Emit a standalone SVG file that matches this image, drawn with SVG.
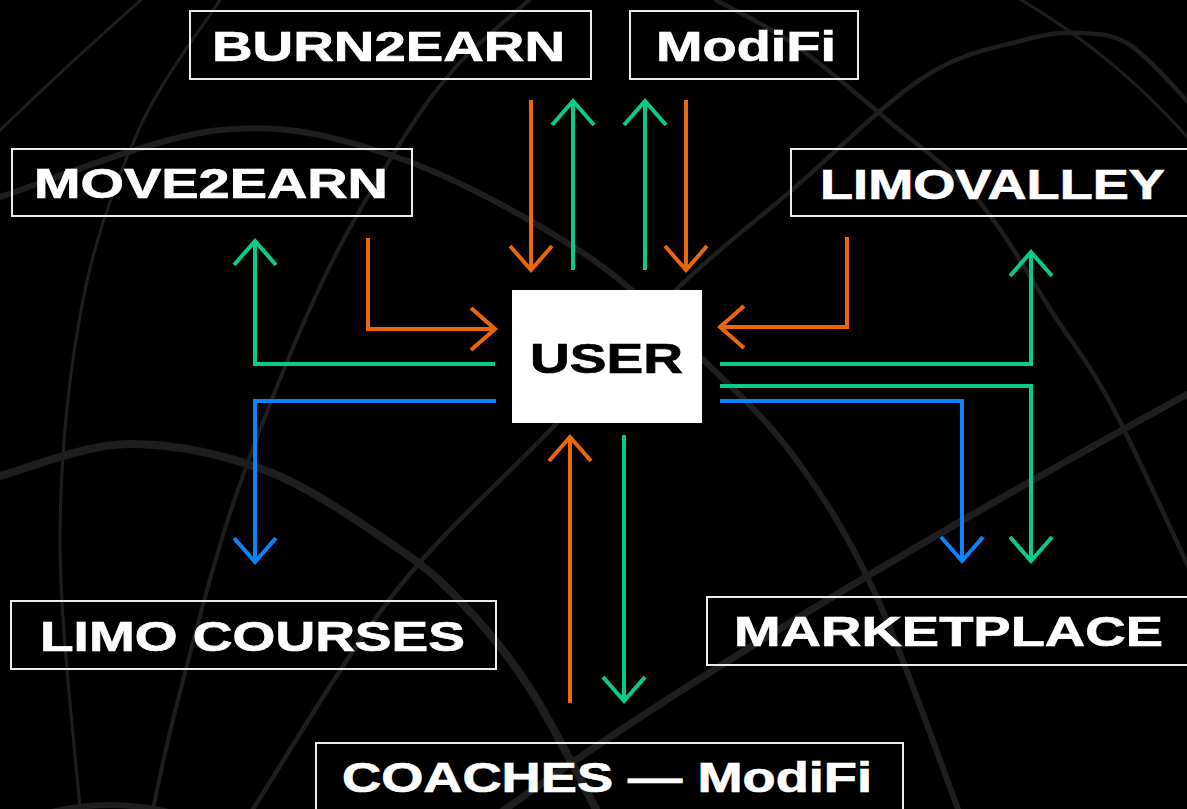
<svg xmlns="http://www.w3.org/2000/svg" width="1187" height="809" viewBox="0 0 1187 809">
  <defs>
    <style>
      .bg { fill: none; stroke: #1e1e1e; stroke-linecap: round; }
      .box { fill: none; stroke: #ececec; stroke-width: 2; }
      .lbl { font-family: "Liberation Sans", Arial, sans-serif; font-weight: 700; font-size: 42px; fill: #ffffff; stroke: #ffffff; stroke-width: 0.7; }
      .dark { fill: #000000; stroke: #000000; }
      .c { fill: none; stroke-width: 4; stroke-linejoin: miter; stroke-linecap: butt; }
      .or { stroke: #EA670B; }
      .gr { stroke: #08CB8E; }
      .bl { stroke: #0A84FB; }
    </style>
    <marker id="ao" markerUnits="userSpaceOnUse" orient="auto" refX="0" refY="0" markerWidth="40" markerHeight="60" viewBox="-30 -30 40 60" overflow="visible">
      <path d="M-24 -21 L0 0 L-24 21" fill="none" stroke="#EA670B" stroke-width="4"/>
    </marker>
    <marker id="ag" markerUnits="userSpaceOnUse" orient="auto" refX="0" refY="0" markerWidth="40" markerHeight="60" viewBox="-30 -30 40 60" overflow="visible">
      <path d="M-24 -21 L0 0 L-24 21" fill="none" stroke="#08CB8E" stroke-width="4"/>
    </marker>
    <marker id="ab" markerUnits="userSpaceOnUse" orient="auto" refX="0" refY="0" markerWidth="40" markerHeight="60" viewBox="-30 -30 40 60" overflow="visible">
      <path d="M-24 -21 L0 0 L-24 21" fill="none" stroke="#0A84FB" stroke-width="4"/>
    </marker>
  </defs>

  <rect x="0" y="0" width="1187" height="809" fill="#000000"/>

  <g id="background">
    <path class="bg" stroke-width="3" d="M-10 140 Q70 62 150 -8"/>
    <path class="bg" stroke-width="3" d="M220 0 C206.7 21.2 162.8 77 140 127 C117.2 177 96.3 231.7 83 300 C69.7 368.3 60.5 452.2 60 537 C59.5 621.8 76.7 763.7 80 809"/>
    <path class="bg" stroke-width="6" d="M0 197 C36.7 185.8 154 136.7 220 130 C286 123.3 335.5 136.5 396 157 C456.5 177.5 533 220.3 583 253 C633 285.7 661.2 319.5 696 353 C730.8 386.5 762.3 414.3 792 454 C821.7 493.7 846.3 531.8 874 591 C901.7 650.2 944 772.7 958 809"/>
    <path class="bg" stroke-width="4" d="M529 0 C516.8 11.2 478.2 42 456 67 C433.8 92 419.2 112.3 396 150 C372.8 187.7 344.2 234 317 293 C289.8 352 256.3 435.5 233 504 C209.7 572.5 190.3 653.2 177 704 C163.7 754.8 157 791.5 153 809"/>
    <path class="bg" stroke-width="8" d="M0 476 C21.2 470.7 82.5 444.8 127 444 C171.5 443.2 222.2 453.8 267 471 C311.8 488.2 363.3 524.8 396 547 C428.7 569.2 440.8 580.7 463 604 C485.2 627.3 506.8 652.8 529 687 C551.2 721.2 584.8 788.7 596 809"/>
    <path class="bg" stroke-width="4.5" d="M253 809 C276.8 772.7 345.5 655.2 396 591 C446.5 526.8 509.3 474.2 556 424 C602.7 373.8 636.7 329 676 290 C715.3 251 750.7 225.5 792 190 C833.3 154.5 885.3 102 924 77 C962.7 52 997.8 47.3 1024 40 C1050.2 32.7 1063.3 32.2 1081 33 C1098.7 33.8 1112.3 33.8 1130 45 C1147.7 56.2 1177.5 90.8 1190 104"/>
    <path class="bg" stroke-width="7" d="M1195 390 Q752 632 500 813"/>
    <path class="bg" stroke-width="4.5" d="M716 0 C729.2 7.5 765.8 24.5 795 45 C824.2 65.5 860.5 97.2 891 123 C921.5 148.8 950.8 168 978 200 C1005.2 232 1031.8 281 1054 315 C1076.2 349 1088.8 362.5 1111 404 C1133.2 445.5 1174.3 537.3 1190 570"/>
    <path class="bg" stroke-width="3" d="M1018 -2 Q1115 55 1190 140"/>
    <path class="bg" stroke-width="6" d="M40 815 Q110 795 180 815"/>
  </g>

  <g id="connectors">
    <path class="c or" d="M531 100 V270" marker-end="url(#ao)"/>
    <path class="c gr" d="M573 270 V101" marker-end="url(#ag)"/>
    <path class="c gr" d="M645 270 V101" marker-end="url(#ag)"/>
    <path class="c or" d="M686 100 V270" marker-end="url(#ao)"/>

    <path class="c or" d="M368 238 V329 H495" marker-end="url(#ao)"/>
    <path class="c gr" d="M495 364 H255 V241" marker-end="url(#ag)"/>
    <path class="c bl" d="M496 401 H255 V562" marker-end="url(#ab)"/>

    <path class="c or" d="M847 237 V327 H720" marker-end="url(#ao)"/>
    <path class="c gr" d="M720 364 H1031 V252" marker-end="url(#ag)"/>
    <path class="c gr" d="M720 386 H1031 V561" marker-end="url(#ag)"/>
    <path class="c bl" d="M720 401 H962 V561" marker-end="url(#ab)"/>

    <path class="c or" d="M570 703 V437" marker-end="url(#ao)"/>
    <path class="c gr" d="M624 435 V701" marker-end="url(#ag)"/>
  </g>

  <g id="burn2earn">
    <rect class="box" x="190" y="11" width="401" height="68"/>
    <text class="lbl" x="212" y="61" textLength="353" lengthAdjust="spacingAndGlyphs">BURN2EARN</text>
  </g>
  <g id="modifi">
    <rect class="box" x="630" y="11" width="228" height="68"/>
    <text class="lbl" x="656" y="61" textLength="180" lengthAdjust="spacingAndGlyphs">ModiFi</text>
  </g>
  <g id="move2earn">
    <rect class="box" x="12" y="149" width="400" height="67"/>
    <text class="lbl" x="34" y="198" textLength="354" lengthAdjust="spacingAndGlyphs">MOVE2EARN</text>
  </g>
  <g id="limovalley">
    <rect class="box" x="791" y="149" width="410" height="67"/>
    <text class="lbl" x="820" y="199" textLength="345" lengthAdjust="spacingAndGlyphs">LIMOVALLEY</text>
  </g>
  <g id="user">
    <rect x="512" y="290" width="190" height="133" fill="#ffffff"/>
    <text class="lbl dark" x="530" y="373" textLength="153" lengthAdjust="spacingAndGlyphs">USER</text>
  </g>
  <g id="limo-courses">
    <rect class="box" x="11" y="601" width="485" height="68"/>
    <text class="lbl" x="40" y="651" textLength="425" lengthAdjust="spacingAndGlyphs">LIMO COURSES</text>
  </g>
  <g id="marketplace">
    <rect class="box" x="707" y="597" width="494" height="68"/>
    <text class="lbl" x="734" y="646" textLength="429" lengthAdjust="spacingAndGlyphs">MARKETPLACE</text>
  </g>
  <g id="coaches-modifi">
    <rect class="box" x="316" y="743" width="587" height="80"/>
    <text class="lbl" x="342" y="792" textLength="530" lengthAdjust="spacingAndGlyphs">COACHES — ModiFi</text>
  </g>
</svg>
